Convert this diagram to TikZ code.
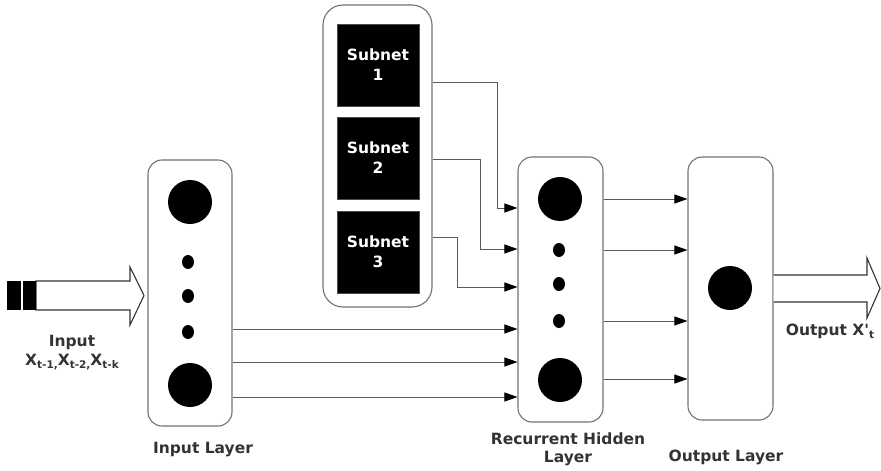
\documentclass[tikz,border=0pt]{standalone}
\usepackage{fontspec}
\setmainfont{DejaVu Sans}
\newfontfamily\qfont{DejaVu Sans}
\usetikzlibrary{arrows.meta,shapes.geometric}
\newcommand{\mysub}[1]{\raisebox{-3.5pt}{\fontsize{10.5}{10.5}\selectfont #1}}
\begin{document}
\begin{tikzpicture}[x=1pt,y=-1pt,
  layer/.style={draw=black!55, line width=1.1pt, rounded corners=14pt, fill=white, inner sep=0},
  bignode/.style={circle, fill=black, minimum size=44pt, inner sep=0},
  dotnode/.style={ellipse, fill=black, minimum width=12pt, minimum height=14pt, inner sep=0},
  subnetbox/.style={fill=black, draw=black!70, line width=0.8pt, minimum width=82pt, minimum height=82pt, inner sep=0, text=white, font=\bfseries\fontsize{15.5}{20}\selectfont, align=center},
  conn/.style={draw=black!65, line width=0.9pt},
  arr/.style={conn, -{Triangle[length=13pt,width=9pt,color=black]}},
  lbl/.style={text=black!80, font=\bfseries\fontsize{15.5}{18}\selectfont, align=center, inner sep=0},
  fatarrow/.style={draw=black!80, line width=1.1pt, fill=white, line join=miter}
]
\useasboundingbox (0,0) rectangle (881,471);

% input layer
\node[layer, minimum width=84pt, minimum height=266pt] (inl) at (190,293) {};
\node[bignode] (i1) at (190,202) {};
\node[dotnode] (id1) at (188,262) {};
\node[dotnode] (id2) at (188,296) {};
\node[dotnode] (id3) at (188,332) {};
\node[bignode] (i2) at (190,385) {};

% subnets
\node[layer, rounded corners=20pt, minimum width=109pt, minimum height=302pt] (so) at (377.5,156) {};
\node[subnetbox] (s1) at (378,65) {Subnet\\1};
\node[subnetbox] (s2) at (378,158) {Subnet\\2};
\node[subnetbox] (s3) at (378,252) {Subnet\\3};

% recurrent hidden layer
\node[layer, minimum width=85pt, minimum height=265pt] (rec) at (560.5,289.5) {};
\node[bignode] (r1) at (560,199) {};
\node[dotnode] (rd1) at (559,250) {};
\node[dotnode] (rd2) at (559,284) {};
\node[dotnode] (rd3) at (559,321) {};
\node[bignode] (r2) at (560,380) {};

% output layer
\node[layer, minimum width=85pt, minimum height=263pt] (outl) at (730.5,288.5) {};
\node[bignode] (o1) at (730,288) {};

% input -> recurrent
\foreach \yy in {329,362,397}
  \draw[arr] (inl.east |- 0,\yy) -- (rec.west |- 0,\yy);

% subnets -> recurrent
\coordinate (b1) at (497,82);
\coordinate (b2) at (480,159);
\coordinate (b3) at (457,237);
\draw[arr] (so.east |- b1) -- (b1) |- (rec.west |- 0,208);
\draw[arr] (so.east |- b2) -- (b2) |- (rec.west |- 0,249);
\draw[arr] (so.east |- b3) -- (b3) |- (rec.west |- 0,287);

% recurrent -> output
\foreach \yy in {199,250,321,379}
  \draw[arr] (rec.east |- 0,\yy) -- (outl.west |- 0,\yy);

% input fat arrow
\draw[fatarrow] (36,281) -- (130,281) -- (130,267) -- (144,295.5) -- (130,325) -- (130,310) -- (36,310) -- cycle;
\fill[black] (7,281) rectangle (21,310);
\fill[black] (23,281) rectangle (36,310);

% output fat arrow
\draw[fatarrow] (outl.east |- 0,275) -- (867,275) -- (867,258) -- (880,288.5) -- (867,318) -- (867,302) -- (outl.east |- 0,302);

% labels
\node[lbl] (tin) at (72,342) {Input};
\node[lbl] (tx) at (72,362) {X\mysub{t-1,}X\mysub{t-2,}X\mysub{t-k}};
\node[lbl] (tout) at (830,331) {Output X{\qfont\bfseries '}\mysub{t}};
\node[lbl] (lin) at (203,450) {Input Layer};
\node[lbl] (lrec) at (568,449) {Recurrent Hidden\\Layer};
\node[lbl] (lout) at (726,457) {Output Layer};
\end{tikzpicture}
\end{document}
